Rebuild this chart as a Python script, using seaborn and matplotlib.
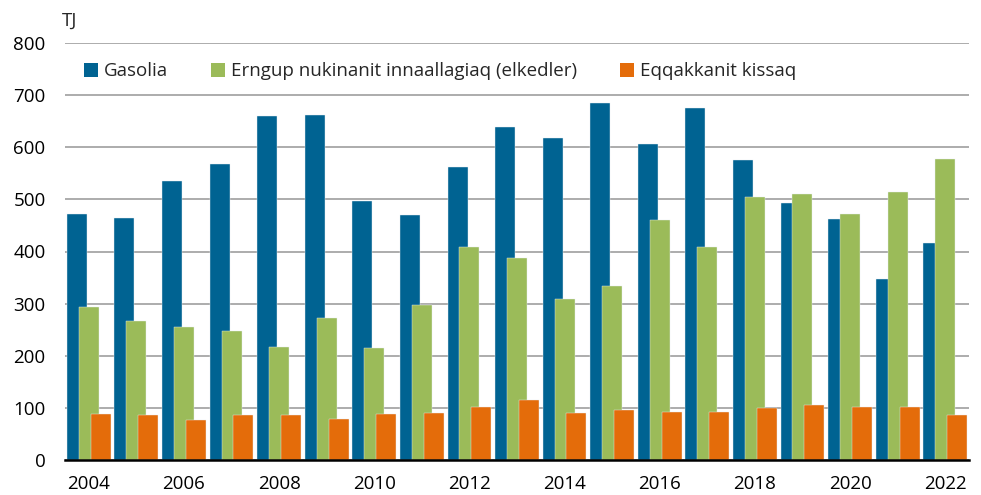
import matplotlib
matplotlib.use("Agg")
import matplotlib.pyplot as plt
from matplotlib.patches import Patch
import numpy as np
import pandas as pd
import seaborn as sns

# Data (TJ)
years = list(range(2004, 2023))
gasolia = [471, 465, 535, 567, 660, 662, 496, 470, 563, 638, 618, 685, 606, 676, 576, 493, 462, 347, 417]
elkedler = [294, 267, 256, 248, 217, 273, 215, 297, 409, 388, 309, 333, 461, 409, 504, 510, 472, 514, 577]
kissaq = [88, 86, 77, 86, 86, 79, 89, 90, 102, 116, 91, 96, 92, 92, 99, 105, 102, 102, 86]

series_names = ["Gasolia", "Erngup nukinanit innaallagiaq (elkedler)", "Eqqakkanit kissaq"]
colors = ["#006392", "#9BBB59", "#E46C0A"]
offsets = [-0.25, 0.0, 0.25]

sns.set_style("white")
plt.rcParams["font.family"] = ["Open Sans", "DejaVu Sans"]

fig = plt.figure(figsize=(9.81, 4.95), dpi=100)
ax = fig.add_axes([65 / 981, 1 - 460 / 495, 904 / 981, 417 / 495])

# overlapping bars like the Excel original: one barplot per series, shifted
for vals, name, col, off in zip([gasolia, elkedler, kissaq], series_names, colors, offsets):
    df = pd.DataFrame({"x": np.array(years) + off, "y": vals})
    sns.barplot(data=df, x="x", y="y", native_scale=True, width=0.42,
                color=col, saturation=1, edgecolor="#e8eef2", linewidth=0.3,
                ax=ax, zorder=3)

ax.set_xlim(years[0] - 0.5, years[-1] + 0.5)
ax.set_ylim(0, 800)
ax.set_yticks(range(0, 801, 100))
ax.set_xticks(years[::2])
ax.set_xticklabels([str(y) for y in years[::2]])
ax.set_xlabel("")
ax.set_ylabel("")
ax.tick_params(axis="both", length=0, labelsize=13.5, colors="#000000")
ax.tick_params(axis="y", pad=14)
ax.tick_params(axis="x", pad=11)

ax.yaxis.grid(True, color="#a6a6a6", linewidth=1.3, zorder=0)
ax.set_axisbelow(True)
for s in ["left", "right", "top"]:
    ax.spines[s].set_visible(False)
ax.spines["bottom"].set_color("black")
ax.spines["bottom"].set_linewidth(1.8)
ax.spines["bottom"].set_zorder(5)

handles = [Patch(facecolor=c, edgecolor="none") for c in colors]
ax.legend(handles, series_names, ncol=3, loc="upper left",
          bbox_to_anchor=(0.013, 0.972), frameon=False, fontsize=13.5,
          handlelength=0.75, handleheight=0.75, handletextpad=0.3,
          columnspacing=2.3, borderaxespad=0)

fig.text(62 / 981, 1 - 21 / 495, "TJ", fontsize=13.5, va="center", ha="left")

fig.savefig("out.png", dpi=100)
